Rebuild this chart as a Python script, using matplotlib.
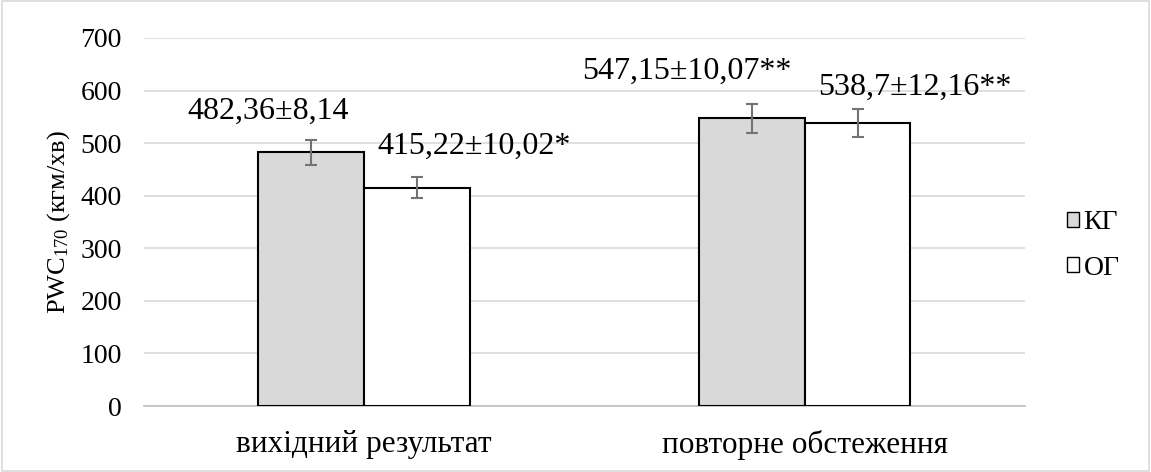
import matplotlib
matplotlib.use("Agg")
import matplotlib.pyplot as plt
from matplotlib.patches import Patch, Rectangle
import numpy as np

plt.rcParams['font.family'] = ['Liberation Serif', 'DejaVu Serif']
plt.rcParams['mathtext.fontset'] = 'custom'
plt.rcParams['mathtext.rm'] = 'Liberation Serif'
plt.rcParams['mathtext.it'] = 'Liberation Serif:italic'

categories = ['вихідний результат', 'повторне обстеження']
series_names = ['КГ', 'ОГ']
kg_values = [482.36, 547.15]
og_values = [415.22, 538.7]
kg_err = [24, 28]
og_err = [20.5, 27]
kg_labels = ['482,36±8,14', '547,15±10,07**']
og_labels = ['415,22±10,02*', '538,7±12,16**']
yticks = [0, 100, 200, 300, 400, 500, 600, 700]

fig = plt.figure(figsize=(11.51, 4.72), dpi=100)
ax = fig.add_axes([0.125, 0.1398, 0.7655, 0.7797])

x = np.arange(len(categories))
w = 0.24
ax.bar(x - w/2, kg_values, w, color='#d9d9d9', edgecolor='black', linewidth=1.5, zorder=3)
ax.bar(x + w/2, og_values, w, color='white', edgecolor='black', linewidth=1.5, zorder=3)
ax.errorbar(x - w/2, kg_values, yerr=kg_err, fmt='none', ecolor='#737373', elinewidth=1.5, capsize=4.5, capthick=1.5, zorder=4)
ax.errorbar(x + w/2, og_values, yerr=og_err, fmt='none', ecolor='#737373', elinewidth=1.5, capsize=4.5, capthick=1.5, zorder=4)

# data labels (placed like the manually moved labels in the original)
ax.text(-0.2185, 546, kg_labels[0], ha='center', va='baseline', fontsize=23)
ax.text(0.031, 479, og_labels[0], ha='left', va='baseline', fontsize=23)
ax.text(0.733, 622, kg_labels[1], ha='center', va='baseline', fontsize=23)
ax.text(1.250, 592, og_labels[1], ha='center', va='baseline', fontsize=23)

ax.set_xlim(-0.5, 1.5)
ax.set_ylim(0, 700)
ax.set_yticks(yticks)
ax.set_yticklabels([str(v) for v in yticks], fontsize=20)
ax.set_xticks(x)
ax.set_xticklabels(categories, fontsize=22.5)
ax.tick_params(axis='y', length=0, pad=16)
ax.tick_params(axis='x', length=0, pad=17)
ax.yaxis.grid(True, color='#d9d9d9', linewidth=1.2, zorder=0)
ax.set_axisbelow(True)
for s in ['top', 'right', 'left']:
    ax.spines[s].set_visible(False)
ax.spines['bottom'].set_color('#bfbfbf')
ax.spines['bottom'].set_linewidth(1.2)

ax.set_ylabel(r'$\mathrm{PWC}_{170}$ (кгм/хв)', fontsize=19)
ax.yaxis.set_label_coords(-0.082, 0.5)

handles = [Patch(facecolor='#d9d9d9', edgecolor='black', linewidth=1),
           Patch(facecolor='white', edgecolor='black', linewidth=1)]
fig.legend(handles, series_names, loc='center left', bbox_to_anchor=(0.927, 0.48),
           frameon=False, fontsize=20, handlelength=0.45, handleheight=0.45,
           handletextpad=0.15, labelspacing=0.75, borderpad=0, borderaxespad=0)

fig.add_artist(Rectangle((0.002, 0.003), 0.996, 0.994, transform=fig.transFigure,
                         fill=False, edgecolor='#d9d9d9', linewidth=1.2))

fig.savefig('out.png', dpi=100)
